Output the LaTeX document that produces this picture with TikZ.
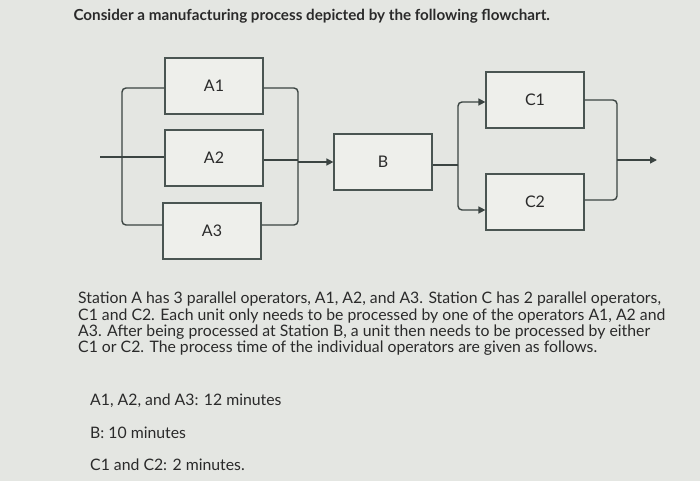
\documentclass[tikz,border=0pt]{standalone}
\usepackage{fontspec}
\setmainfont{Lato}
\usetikzlibrary{arrows.meta}
\definecolor{bg}{HTML}{E4E6E2}
\definecolor{boxf}{HTML}{EEEFEB}
\definecolor{edge}{HTML}{4A5552}
\definecolor{txt}{HTML}{2A2A2A}
\begin{document}
\begin{tikzpicture}[x=1pt,y=-1pt,
  stbox/.style={draw=edge,line width=1.2pt,fill=boxf,minimum width=98pt,minimum height=56pt,inner sep=0pt,font=\fontsize{16}{18}\selectfont,text=txt},
  wire/.style={draw=edge!80!black,line width=1.4pt,rounded corners=4pt},
  arr/.style={wire,-{Triangle[length=7pt,width=7pt]}},
  para/.style={anchor=north west,align=left,font=\fontsize{15.8}{16.3}\selectfont,text=txt,inner sep=0pt}]
\fill[bg] (0,0) rectangle (700,481);
\useasboundingbox (0,0) rectangle (700,481);
\node[anchor=west,font=\bfseries\fontsize{15.2}{17}\selectfont,text=txt] (title) at (70,16) {Consider a manufacturing process depicted by the following flowchart.};
\node[stbox] (A1) at (214,86) {A1};
\node[stbox] (A2) at (214,158) {A2};
\node[stbox] (A3) at (212,231) {A3};
\node[stbox] (B) at (383,162) {B};
\node[stbox] (C1) at (535,100) {C1};
\node[stbox] (C2) at (535,202) {C2};
\coordinate (in) at (100,157);
\coordinate (out) at (657,160);
\draw[wire] (A1.west|-0,88) -- (122,88) -- (122,225) -- (A3.west|-0,225);
\draw[wire] (in) -- (A2.west|-in);
\draw[wire] (A1.east|-0,88) -- (298,88) -- (298,225) -- (A3.east|-0,225);
\draw[wire] (A2.east|-0,160) -- (298,160);
\draw[arr] (298,162) -- (B.west|-0,162);
\draw[wire] (B.east|-0,165) -- (458,165);
\draw[arr] (458,165) -- (458,102) -- (C1.west|-0,102);
\draw[arr] (458,165) -- (458,210) -- (C2.west|-0,210);
\draw[wire] (C1.east|-0,100) -- (617,100) -- (617,200) -- (C2.east|-0,200);
\draw[arr] (617,160) -- (out);
\node[para] (p) at (78,292) {Station A has 3 parallel operators, A1, A2, and A3. Station C has 2 parallel operators,\\
C1 and C2. Each unit only needs to be processed by one of the operators A1, A2 and\\
A3. After being processed at Station B, a unit then needs to be processed by either\\
C1 or C2. The process time of the individual operators are given as follows.};
\node[para] (l1) at (90,394) {A1, A2, and A3: 12 minutes};
\node[para] (l2) at (90,427) {B: 10 minutes};
\node[para] (l3) at (90,459) {C1 and C2: 2 minutes.};
\end{tikzpicture}
\end{document}
